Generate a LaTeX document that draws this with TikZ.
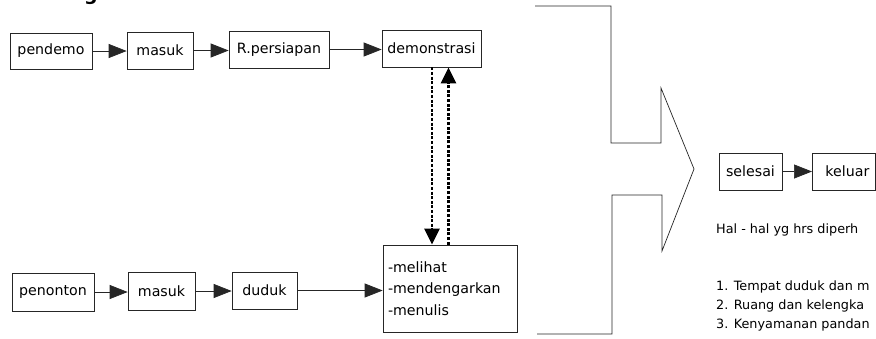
\documentclass[tikz,border=0pt]{standalone}
\usepackage{fontspec}
\setmainfont{DejaVu Sans}
\usetikzlibrary{arrows.meta}
\tikzset{
  box/.style={draw=black!85, line width=0.7pt, inner sep=0pt, font=\fontsize{14.2pt}{17pt}\selectfont},
  flow/.style={draw=black!85, line width=0.7pt, -{Triangle[length=18pt,width=14pt]}},
  dflow/.style={draw=black, line width=2.8pt, dash pattern=on 3pt off 1.6pt, -{Triangle[length=16pt,width=15pt]}},
  outline/.style={draw=black!85, line width=0.7pt},
  note/.style={anchor=west, inner sep=0pt, font=\fontsize{12.8pt}{16pt}\selectfont}
}
\begin{document}
\begin{tikzpicture}[x=1pt,y=-1pt]
\useasboundingbox (0,0) rectangle (876,338);
\fill[white] (0,0) rectangle (876,338);
% cut-off title glyph
\node[anchor=base, inner sep=0pt, font=\fontsize{19pt}{22pt}\selectfont\bfseries] (title) at (91,0.5) {g};
% top row
\node[box, minimum width=82pt, minimum height=36pt] (pendemo) at (51,51) {pendemo};
\node[box, minimum width=66pt, minimum height=37pt] (masuka) at (160,50.5) {masuk};
\node[box, minimum width=100pt, minimum height=37pt] (persiapan) at (279,49.5) {R.persiapan};
\node[box, minimum width=99pt, minimum height=37pt] (demo) at (431.5,48.5) {demonstrasi};
% bottom row
\node[box, minimum width=82pt, minimum height=38pt] (penonton) at (53,292) {penonton};
\node[box, minimum width=67pt, minimum height=38pt] (masukb) at (161.5,291) {masuk};
\node[box, minimum width=65pt, minimum height=37pt] (duduk) at (264.5,290.5) {duduk};
\node[box, minimum width=134pt, minimum height=87pt, align=left, text width=124pt, font=\fontsize{14.2pt}{21.5pt}\selectfont] (lihat) at (450,288.5) {-melihat\\-mendengarkan\\-menulis};
% right side
\node[box, minimum width=63pt, minimum height=37pt] (selesai) at (750.5,171.5) {selesai};
\node[box, minimum width=63pt, minimum height=37pt, anchor=west] (keluar) at (812,171.5) {\hspace*{7pt}keluar\hfill};
% arrows
\draw[flow] (pendemo.east) -- (masuka.west |- pendemo.east);
\draw[flow] (masuka.east) -- (persiapan.west |- masuka.east);
\draw[flow] (persiapan.east) -- (demo.west |- persiapan.east);
\draw[flow] (penonton.east) -- (masukb.west |- penonton.east);
\draw[flow] (masukb.east) -- (duduk.west |- masukb.east);
\draw[flow] (duduk.east) -- (lihat.west |- duduk.east);
\draw[flow] (selesai) -- (keluar);
\draw[dflow] (demo.south -| 432,0) -- (lihat.north -| 432,0);
\draw[dflow] (lihat.north -| 448.5,0) -- (demo.south -| 448.5,0);
% big merge arrow
\draw[outline] (535,6) -- (611,6) -- (611,143) -- (661,143) -- (661,88) -- (694,169) -- (662,251) -- (662,195) -- (612,195) -- (612,334) -- (537,334);
% notes
\node[note] (hal) at (716,230) {Hal - hal yg hrs diperh};
\node[note] (n1) at (716,287) {1. Tempat duduk dan m};
\node[note] (n2) at (716,306) {2. Ruang dan kelengka};
\node[note] (n3) at (716,325) {3. Kenyamanan pandan};
\end{tikzpicture}
\end{document}
